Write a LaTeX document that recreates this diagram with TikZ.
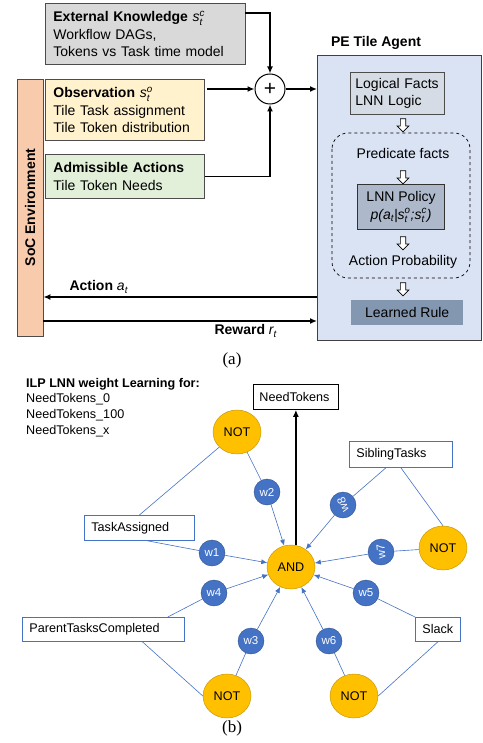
\documentclass[tikz,border=0pt]{standalone}
\usepackage{fontspec}
\usepackage{amsmath}
\setmainfont{Liberation Sans}
\newfontfamily\capfont{Liberation Serif}
\usetikzlibrary{arrows.meta, positioning, shapes.geometric, shapes.arrows}

\definecolor{knowgray}{HTML}{D9D9D9}
\definecolor{obsyellow}{HTML}{FFF2CC}
\definecolor{actgreen}{HTML}{E2F0D9}
\definecolor{socpeach}{HTML}{F8CBAD}
\definecolor{agentblue}{HTML}{DAE3F3}
\definecolor{factgray}{HTML}{D6DCE5}
\definecolor{policyblue}{HTML}{ADB9CA}
\definecolor{ruleblue}{HTML}{8497B0}
\definecolor{gateorange}{HTML}{FFC000}
\definecolor{gateedge}{HTML}{BF9000}
\definecolor{wblue}{HTML}{4472C4}
\definecolor{wedge}{HTML}{2F528F}

\newcommand{\tvar}[3]{$\textit{#1}_{\textit{#2}}^{\textit{#3}}$}

\tikzset{
	bigtext/.style={font=\fontsize{14}{17.5}\selectfont},
	smalltext/.style={font=\fontsize{12.6}{15.6}\selectfont},
	inbox/.style={rectangle, draw=black!70, line width=0.8pt, anchor=north west, align=left, inner xsep=8pt, inner ysep=0pt, bigtext},
	agentbox/.style={rectangle, anchor=north west, align=center, inner sep=0pt, bigtext},
	hollow/.style={single arrow, draw=black, fill=white, line width=0.7pt, shape border rotate=270, minimum height=13pt, inner sep=2.3pt, single arrow head extend=3.2pt},
	flow/.style={-{Latex[length=7pt,width=6pt]}, line width=1.4pt},
	gate/.style={ellipse, draw=gateedge, fill=gateorange, minimum width=48pt, minimum height=44pt, inner sep=0pt, smalltext},
	weight/.style={circle, draw=wedge, fill=wblue, text=white, minimum size=26pt, inner sep=0pt, font=\fontsize{11.5}{12}\selectfont},
	pred/.style={rectangle, draw=wblue, fill=white, line width=0.8pt, anchor=north west, align=left, inner xsep=7pt, inner ysep=0pt, smalltext},
	wire/.style={draw=wblue, line width=0.6pt},
	wirein/.style={wire, -{Latex[length=6pt,width=5pt]}}
}

\begin{document}
\begin{tikzpicture}[x=1pt, y=-1pt]
	\useasboundingbox (0,0) rectangle (482,743);

	% (a) agent and environment
	\node[inbox, fill=knowgray, text width=184pt, minimum height=61pt] (know) at (45,3)
		{\textbf{External Knowledge} \tvar{s}{t}{c}\\Workflow DAGs,\\Tokens vs Task time model};
	\node[inbox, fill=obsyellow, text width=143pt, minimum height=61pt] (obs) at (45,79)
		{\textbf{Observation} \tvar{s}{t}{o}\\Tile Task assignment\\Tile Token distribution};
	\node[inbox, fill=actgreen, text width=143pt, minimum height=44pt] (adm) at (45,154)
		{\textbf{Admissible Actions}\\Tile Token Needs};
	\node[rectangle, draw=black!70, line width=0.8pt, fill=socpeach, minimum width=26pt, minimum height=257pt, inner sep=0pt] (soc) at (30,207.5) {};
	\node[rotate=90, bigtext] (soclabel) at (soc) {\textbf{SoC Environment}};

	\node[circle, draw, line width=1pt, fill=white, minimum size=30pt, inner sep=0pt, font=\fontsize{21}{21}\selectfont] (plus) at (270,89) {+};

	\node[agentbox, draw=black!75, line width=0.8pt, fill=agentblue, minimum width=164pt, minimum height=285pt] (agent) at (317,55) {};
	\node[bigtext] (agentlabel) at (376,43) {\textbf{PE Tile Agent}};
	\node[inbox, fill=factgray, inner xsep=5pt, text width=84pt, minimum height=42pt] (facts) at (350,72) {Logical Facts\\LNN Logic};
	\draw[dashed, line width=0.7pt, rounded corners=16pt] (332,133) rectangle (470,278);
	\node[bigtext] (predfacts) at (403,153) {Predicate facts};
	\node[agentbox, draw=black!80, line width=1.2pt, fill=policyblue, minimum width=87pt, minimum height=45pt] (policy) at (357,184)
		{LNN Policy\\\textit{p(a}$_{\textit{t}}$\textit{|s}$_{\textit{t}}^{\textit{o}}$\textit{;s}$_{\textit{t}}^{\textit{c}}$\textit{)}};
	\node[bigtext] (actprob) at (403,262) {Action Probability};
	\node[agentbox, fill=ruleblue, minimum width=112pt, minimum height=25pt] (rule) at (351,300) {Learned Rule};

	\node[hollow] (down1) at (403,124) {};
	\node[hollow] (down2) at (403,176) {};
	\node[hollow] (down3) at (403,242) {};
	\node[hollow] (down4) at (403,288) {};

	\coordinate (knowout) at (245,13);
	\coordinate (obsout) at (207,89);
	\coordinate (actout) at (317,297);
	\coordinate (rewin) at (43,321);
	\draw[flow] (knowout) -| (plus);
	\draw[flow] (obsout) -- (plus);
	\draw[flow] (adm.east) -| (plus);
	\draw[flow] (plus) -- (plus -| agent.west);
	\draw[flow] (actout) -- (actout -| soc.east);
	\draw[flow] (rewin) -- (rewin -| agent.west);
	\node[bigtext, anchor=west] (actlabel) at (66,287) {\textbf{Action} \tvar{a}{t}{}};
	\node[bigtext, anchor=west] (rewlabel) at (211,331) {\textbf{Reward} \tvar{r}{t}{}};

	\node[font=\capfont\fontsize{17}{17}\selectfont] (capa) at (232,360) {(a)};

	% (b) LNN weight learning
	\node[smalltext, anchor=north west, align=left, inner sep=0pt] (ilp) at (26,378)
		{\textbf{ILP LNN weight Learning for:}\\NeedTokens\_0\\NeedTokens\_100\\NeedTokens\_x};

	\node[pred, draw=black, inner xsep=6pt, text width=73pt, minimum height=25pt] (need) at (253,384) {NeedTokens};
	\node[pred, text width=89pt, minimum height=26pt] (sib) at (349,441) {SiblingTasks};
	\node[pred, text width=96pt, minimum height=25pt] (task) at (84,515) {TaskAssigned};
	\node[pred, text width=148pt, minimum height=24pt] (parent) at (22,617) {ParentTasksCompleted};
	\node[pred, text width=31pt, minimum height=24pt] (slack) at (415,617) {Slack};

	\node[gate] (and) at (291,567) {AND};
	\node[gate] (nottop) at (237,432) {NOT};
	\node[gate] (notright) at (443,548) {NOT};
	\node[gate] (notleft) at (227,696) {NOT};
	\node[gate] (notlow) at (354,696) {NOT};

	\node[weight] (w1) at (212,553) {w1};
	\node[weight] (w2) at (267,492) {w2};
	\node[weight] (w3) at (251,641) {w3};
	\node[weight] (w4) at (214,593) {w4};
	\node[weight] (w5) at (366,593) {w5};
	\node[weight] (w6) at (329,641) {w6};
	\node[weight] (w7) at (381,552) {\rotatebox{95}{w7}};
	\node[weight] (w8) at (343,505) {\rotatebox{110}{w8}};

	\draw[wire] (task.north) -- (nottop);
	\draw[wire] ([xshift=8pt]task.south) -- (w1);
	\draw[wirein] (w1) -- (and);
	\draw[wire] (nottop) -- (w2);
	\draw[wirein] (w2) -- (and);
	\draw[wire] ([xshift=-15pt]sib.south) -- (w8);
	\draw[wirein] (w8) -- (and);
	\draw[wire] (sib.south) -- (notright.north);
	\draw[wire] (notright) -- (w7);
	\draw[wirein] (w7) -- (and);
	\draw[wire] ([xshift=-17pt]parent.north east) -- (w4);
	\draw[wirein] (w4) -- (and);
	\draw[wire] ([xshift=39pt]parent.south) -- (notleft.west);
	\draw[wire] (notleft) -- (w3);
	\draw[wirein] (w3) -- (and);
	\draw[wire] (slack.north west) -- (w5);
	\draw[wirein] (w5) -- (and);
	\draw[wire] (slack.south) -- (notlow.east);
	\draw[wire] (notlow) -- (w6);
	\draw[wirein] (w6) -- (and);
	\draw[-{Latex[length=7pt,width=6pt]}, line width=2pt] (and.north -| need.south) -- (need.south);

	\node[font=\capfont\fontsize{17}{17}\selectfont] (capb) at (232,728) {(b)};
\end{tikzpicture}
\end{document}
